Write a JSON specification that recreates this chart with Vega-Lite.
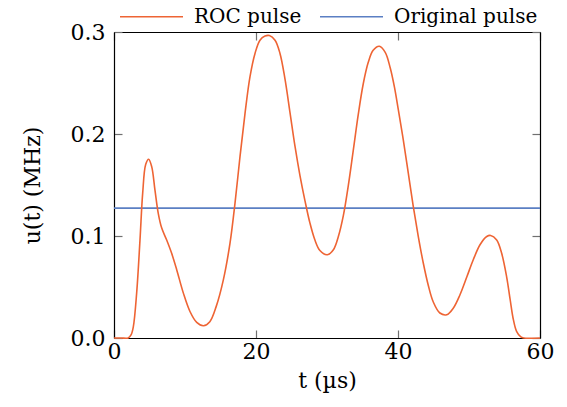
{
  "$schema": "https://vega.github.io/schema/vega-lite/v6.json",
  "width": 426,
  "height": 306,
  "autosize": "none",
  "padding": {"left": 114, "top": 32, "right": 27, "bottom": 69},
  "background": "white",
  "config": {
    "view": {"stroke": null},
    "font": "DejaVu Serif",
    "axis": {
      "grid": false,
      "domainColor": "black",
      "domainWidth": 1.2,
      "tickColor": "#707070",
      "tickWidth": 1.2,
      "tickSize": -8,
      "labelFont": "DejaVu Serif",
      "labelFontSize": 22,
      "labelColor": "black",
      "labelFlush": false,
      "labelOverlap": false,
      "titleFont": "DejaVu Serif",
      "titleFontSize": 22,
      "titleFontWeight": "normal",
      "titleColor": "black"
    }
  },
  "data": {
    "values": [
      {"series": "Original pulse", "t": 0, "u": 0.1273},
      {"series": "Original pulse", "t": 60, "u": 0.1273},
      {"series": "ROC pulse", "t": 0, "u": 0},
      {"series": "ROC pulse", "t": 1, "u": 0},
      {"series": "ROC pulse", "t": 2.0, "u": 0},
      {"series": "ROC pulse", "t": 2.4, "u": 0.003},
      {"series": "ROC pulse", "t": 2.72, "u": 0.011},
      {"series": "ROC pulse", "t": 3.19, "u": 0.044},
      {"series": "ROC pulse", "t": 3.66, "u": 0.096},
      {"series": "ROC pulse", "t": 4.04, "u": 0.142},
      {"series": "ROC pulse", "t": 4.46, "u": 0.170},
      {"series": "ROC pulse", "t": 4.88, "u": 0.1753},
      {"series": "ROC pulse", "t": 5.31, "u": 0.168},
      {"series": "ROC pulse", "t": 5.77, "u": 0.145},
      {"series": "ROC pulse", "t": 6.24, "u": 0.122},
      {"series": "ROC pulse", "t": 6.71, "u": 0.108},
      {"series": "ROC pulse", "t": 7.42, "u": 0.096},
      {"series": "ROC pulse", "t": 8.12, "u": 0.083},
      {"series": "ROC pulse", "t": 8.83, "u": 0.067},
      {"series": "ROC pulse", "t": 9.77, "u": 0.044},
      {"series": "ROC pulse", "t": 10.7, "u": 0.026},
      {"series": "ROC pulse", "t": 11.65, "u": 0.0153},
      {"series": "ROC pulse", "t": 12.6, "u": 0.012},
      {"series": "ROC pulse", "t": 13.5, "u": 0.016},
      {"series": "ROC pulse", "t": 14.4, "u": 0.031},
      {"series": "ROC pulse", "t": 15.4, "u": 0.057},
      {"series": "ROC pulse", "t": 16.34, "u": 0.093},
      {"series": "ROC pulse", "t": 17.04, "u": 0.132},
      {"series": "ROC pulse", "t": 17.75, "u": 0.178},
      {"series": "ROC pulse", "t": 18.45, "u": 0.220},
      {"series": "ROC pulse", "t": 19.15, "u": 0.256},
      {"series": "ROC pulse", "t": 19.86, "u": 0.279},
      {"series": "ROC pulse", "t": 20.56, "u": 0.292},
      {"series": "ROC pulse", "t": 21.27, "u": 0.296},
      {"series": "ROC pulse", "t": 21.88, "u": 0.2965},
      {"series": "ROC pulse", "t": 22.68, "u": 0.292},
      {"series": "ROC pulse", "t": 23.38, "u": 0.279},
      {"series": "ROC pulse", "t": 24.08, "u": 0.254},
      {"series": "ROC pulse", "t": 24.79, "u": 0.221},
      {"series": "ROC pulse", "t": 25.49, "u": 0.188},
      {"series": "ROC pulse", "t": 26.2, "u": 0.159},
      {"series": "ROC pulse", "t": 26.9, "u": 0.1345},
      {"series": "ROC pulse", "t": 27.6, "u": 0.1126},
      {"series": "ROC pulse", "t": 28.3, "u": 0.096},
      {"series": "ROC pulse", "t": 29.0, "u": 0.0858},
      {"series": "ROC pulse", "t": 30.05, "u": 0.0816},
      {"series": "ROC pulse", "t": 30.9, "u": 0.0865},
      {"series": "ROC pulse", "t": 31.6, "u": 0.0995},
      {"series": "ROC pulse", "t": 32.3, "u": 0.120},
      {"series": "ROC pulse", "t": 33.0, "u": 0.1495},
      {"series": "ROC pulse", "t": 33.7, "u": 0.184},
      {"series": "ROC pulse", "t": 34.4, "u": 0.219},
      {"series": "ROC pulse", "t": 35.1, "u": 0.249},
      {"series": "ROC pulse", "t": 35.8, "u": 0.270},
      {"series": "ROC pulse", "t": 36.5, "u": 0.282},
      {"series": "ROC pulse", "t": 37.37, "u": 0.286},
      {"series": "ROC pulse", "t": 38.2, "u": 0.280},
      {"series": "ROC pulse", "t": 38.9, "u": 0.265},
      {"series": "ROC pulse", "t": 39.5, "u": 0.246},
      {"series": "ROC pulse", "t": 40.05, "u": 0.2236},
      {"series": "ROC pulse", "t": 40.75, "u": 0.194},
      {"series": "ROC pulse", "t": 41.45, "u": 0.1616},
      {"series": "ROC pulse", "t": 42.15, "u": 0.129},
      {"series": "ROC pulse", "t": 42.86, "u": 0.0995},
      {"series": "ROC pulse", "t": 43.56, "u": 0.0735},
      {"series": "ROC pulse", "t": 44.27, "u": 0.0515},
      {"series": "ROC pulse", "t": 44.97, "u": 0.0353},
      {"series": "ROC pulse", "t": 45.9, "u": 0.0245},
      {"series": "ROC pulse", "t": 46.86, "u": 0.0228},
      {"series": "ROC pulse", "t": 47.8, "u": 0.0294},
      {"series": "ROC pulse", "t": 48.73, "u": 0.0424},
      {"series": "ROC pulse", "t": 49.7, "u": 0.0600},
      {"series": "ROC pulse", "t": 50.6, "u": 0.0767},
      {"series": "ROC pulse", "t": 51.55, "u": 0.0914},
      {"series": "ROC pulse", "t": 52.5, "u": 0.0995},
      {"series": "ROC pulse", "t": 53.05, "u": 0.1005},
      {"series": "ROC pulse", "t": 53.9, "u": 0.096},
      {"series": "ROC pulse", "t": 54.6, "u": 0.083},
      {"series": "ROC pulse", "t": 55.3, "u": 0.060},
      {"series": "ROC pulse", "t": 55.8, "u": 0.0375},
      {"series": "ROC pulse", "t": 56.25, "u": 0.018},
      {"series": "ROC pulse", "t": 56.7, "u": 0.0065},
      {"series": "ROC pulse", "t": 57.3, "u": 0.001},
      {"series": "ROC pulse", "t": 57.7, "u": 0},
      {"series": "ROC pulse", "t": 60, "u": 0}
    ]
  },
  "layer": [
    {
      "mark": {"type": "line", "strokeWidth": 1.6, "interpolate": "catmull-rom"},
      "encoding": {
        "x": {
          "field": "t", "type": "quantitative",
          "scale": {"domain": [0, 60], "nice": false, "zero": false},
          "axis": {"orient": "bottom", "values": [0, 20, 40, 60], "format": "d", "labelPadding": 11, "title": "t (µs)", "titlePadding": 8}
        },
        "y": {
          "field": "u", "type": "quantitative",
          "scale": {"domain": [0, 0.3], "nice": false},
          "axis": {"orient": "left", "values": [0, 0.1, 0.2, 0.3], "format": ".1f", "labelPadding": 17, "title": "u(t) (MHz)", "titlePadding": 26}
        },
        "color": {
          "field": "series", "type": "nominal",
          "scale": {"domain": ["ROC pulse", "Original pulse"], "range": ["#EE6434", "#5B7FC3"]},
          "legend": {
            "orient": "none", "legendX": 5, "legendY": -48, "direction": "horizontal",
            "title": null, "symbolType": "stroke", "symbolSize": 3969, "symbolStrokeWidth": 1.6,
            "labelFont": "DejaVu Serif", "labelFontSize": 20, "labelColor": "black",
            "labelOffset": 10, "columnPadding": 14, "padding": 0
          }
        }
      }
    },
    {
      "mark": {"type": "line", "opacity": 0},
      "encoding": {
        "x": {
          "field": "t", "type": "quantitative",
          "axis": {"orient": "top", "values": [0, 20, 40, 60], "labels": false, "title": null}
        },
        "y": {
          "field": "u", "type": "quantitative",
          "axis": {"orient": "right", "values": [0, 0.1, 0.2, 0.3], "labels": false, "title": null}
        },
        "detail": {"field": "series"}
      }
    }
  ],
  "resolve": {"axis": {"x": "independent", "y": "independent"}}
}
